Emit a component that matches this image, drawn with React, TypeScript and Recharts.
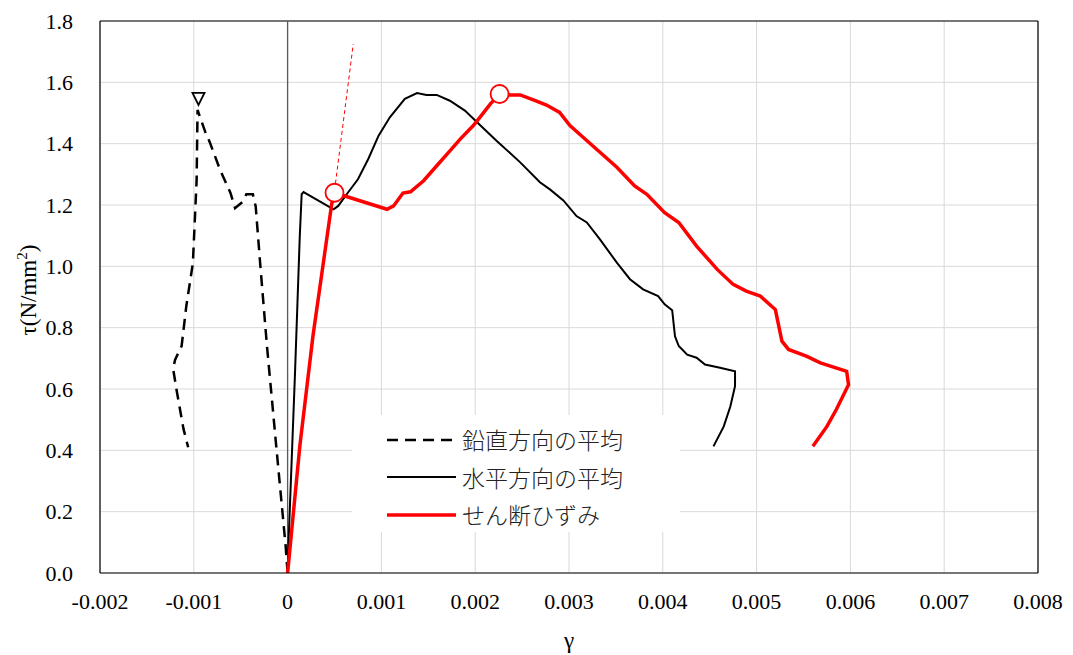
import {
  ComposedChart,
  Line,
  XAxis,
  YAxis,
  CartesianGrid,
  ReferenceLine,
  ReferenceDot,
  Legend,
} from 'recharts';

// γ (shear strain) axis and τ (shear stress) axis ticks
const xTicks = [-0.002, -0.001, 0, 0.001, 0.002, 0.003, 0.004, 0.005, 0.006, 0.007, 0.008];
const yTicks = [0, 0.2, 0.4, 0.6, 0.8, 1.0, 1.2, 1.4, 1.6, 1.8];

// [γ, τ] pairs, in measurement order
const verticalAvg: [number, number][] = [
  [0, 0], [-0.00002, 0.085], [-0.00012, 0.41], [-0.00022, 0.74], [-0.00029, 1.0],
  [-0.00034, 1.195], [-0.00037, 1.235], [-0.00044, 1.235], [-0.00048, 1.21],
  [-0.00056, 1.19], [-0.00061, 1.24], [-0.00072, 1.315], [-0.00083, 1.405],
  [-0.00088, 1.44], [-0.00096, 1.51], [-0.00097, 1.28], [-0.00101, 1.01],
  [-0.00108, 0.87], [-0.00113, 0.74], [-0.0012, 0.695], [-0.00122, 0.665],
  [-0.00118, 0.59], [-0.00111, 0.47], [-0.00106, 0.41],
];

const horizontalAvg: [number, number][] = [
  [0, 0], [0.00001, 0.1], [0.00008, 0.66], [0.00013, 1.1], [0.00015, 1.235],
  [0.00017, 1.242], [0.00049, 1.186], [0.00054, 1.197], [0.00063, 1.235],
  [0.00075, 1.284], [0.00086, 1.35], [0.00097, 1.426], [0.00109, 1.486],
  [0.00125, 1.546], [0.00138, 1.565], [0.00148, 1.559], [0.00159, 1.559],
  [0.00173, 1.54], [0.00189, 1.508], [0.00202, 1.47], [0.00223, 1.409],
  [0.00248, 1.339], [0.00269, 1.274], [0.0028, 1.25], [0.00294, 1.215],
  [0.00308, 1.164], [0.00319, 1.143], [0.00333, 1.088], [0.00351, 1.012],
  [0.00365, 0.958], [0.00379, 0.925], [0.00395, 0.903], [0.00402, 0.876],
  [0.0041, 0.857], [0.00413, 0.772], [0.00417, 0.74], [0.00426, 0.712],
  [0.00436, 0.702], [0.00445, 0.68], [0.00461, 0.669], [0.00477, 0.658],
  [0.00477, 0.609], [0.00472, 0.543], [0.00465, 0.478], [0.00454, 0.413],
];

const shearStrain: [number, number][] = [
  [0, 0], [0.00013, 0.413], [0.00027, 0.772], [0.00047, 1.203], [0.0005, 1.24],
  [0.00106, 1.186], [0.00113, 1.197], [0.00123, 1.239], [0.00131, 1.243],
  [0.00145, 1.279], [0.00159, 1.328], [0.0017, 1.366], [0.00184, 1.415],
  [0.00198, 1.459], [0.00205, 1.486], [0.00216, 1.529], [0.00226, 1.562],
  [0.00237, 1.559], [0.00248, 1.559], [0.00262, 1.543], [0.00276, 1.526],
  [0.0029, 1.502], [0.00301, 1.459], [0.00315, 1.421], [0.00333, 1.372],
  [0.00351, 1.323], [0.0037, 1.262], [0.00383, 1.235], [0.00402, 1.175],
  [0.00417, 1.143], [0.00436, 1.066], [0.00458, 0.99], [0.00475, 0.941],
  [0.00489, 0.919], [0.00504, 0.903], [0.0052, 0.859], [0.00527, 0.756],
  [0.00534, 0.729], [0.00553, 0.707], [0.00568, 0.685], [0.00596, 0.658],
  [0.00598, 0.614], [0.00585, 0.533], [0.00575, 0.478], [0.0056, 0.413],
];

// extension of the initial elastic slope
const elasticLine: [number, number][] = [[0.00051, 1.27], [0.0007, 1.725]];

// yield point and maximum of the shear strain curve
const shearMarks: [number, number][] = [[0.0005, 1.24], [0.00226, 1.562]];

// maximum of the vertical average
const verticalPeak: [number, number] = [-0.00095, 1.546];

const toPoints = (rows: [number, number][]) => rows.map(([x, y]) => ({ x, y }));

const SERIF = 'Times New Roman, Liberation Serif, DejaVu Serif, Noto Serif, serif';
const JP = 'Noto Sans CJK JP, sans-serif';

// legend rows, top to bottom
const legendRows: { name: string; stroke: string; width: number; dash?: string }[] = [
  { name: '鉛直方向の平均', stroke: '#000', width: 2.5, dash: '11 7' },
  { name: '水平方向の平均', stroke: '#000', width: 2 },
  { name: 'せん断ひずみ', stroke: '#ff0000', width: 3.5 },
];

function XTick({ x, y, payload }: any) {
  return (
    <text x={x} y={y + 28} dy="0.35em" textAnchor="middle" fontSize={22} fill="#000" fontFamily={SERIF}>
      {String(payload.value)}
    </text>
  );
}

function YTick({ x, y, payload }: any) {
  return (
    <text x={x - 27} y={y} dy="0.35em" textAnchor="end" fontSize={22} fill="#000" fontFamily={SERIF}>
      {Number(payload.value).toFixed(1)}
    </text>
  );
}

function Triangle({ cx, cy }: any) {
  return (
    <path
      d={`M${cx - 6},${cy - 6} L${cx + 6},${cy - 6} L${cx},${cy + 6} Z`}
      fill="#fff"
      stroke="#000"
      strokeWidth={1.8}
    />
  );
}

function LegendBox() {
  return (
    <div style={{ background: '#fff', width: '100%', height: '100%', paddingTop: 6, boxSizing: 'border-box' }}>
      {legendRows.map((s) => (
        <div key={s.name} style={{ display: 'flex', alignItems: 'center', height: 37.5 }}>
          <svg width={110} height={20} style={{ flex: 'none' }}>
            <line x1={35} y1={10} x2={104} y2={10} stroke={s.stroke} strokeWidth={s.width} strokeDasharray={s.dash} />
          </svg>
          <span style={{ fontFamily: JP, fontSize: 23, fontWeight: 300, color: '#222', lineHeight: 1 }}>{s.name}</span>
        </div>
      ))}
    </div>
  );
}

export default function App() {
  return (
    <div style={{ position: 'absolute', left: 0, top: 0, width: 1073, height: 655, background: '#fff', fontFamily: SERIF }}>
      <ComposedChart width={1073} height={655} margin={{ top: 21, right: 35, bottom: 0, left: 0 }}>
        <CartesianGrid stroke="#d9d9d9" strokeWidth={1} />
        <XAxis
          type="number"
          dataKey="x"
          domain={[-0.002, 0.008]}
          ticks={xTicks}
          allowDataOverflow
          height={82}
          tickLine={false}
          tickSize={0}
          tickMargin={0}
          axisLine={{ stroke: '#000', strokeWidth: 1.2 }}
          tick={<XTick />}
          label={({ viewBox }: any) => (
            <text
              x={viewBox.x + viewBox.width / 2}
              y={viewBox.y + 67}
              dy="0.35em"
              textAnchor="middle"
              fontSize={23}
              fontFamily={SERIF}
            >
              γ
            </text>
          )}
        />
        <YAxis
          type="number"
          dataKey="y"
          domain={[0, 1.8]}
          ticks={yTicks}
          allowDataOverflow
          width={100}
          tickLine={false}
          tickSize={0}
          tickMargin={0}
          axisLine={{ stroke: '#000', strokeWidth: 1.2 }}
          tick={<YTick />}
          label={({ viewBox }: any) => {
            const cx = 28;
            const cy = viewBox.y + viewBox.height / 2 - 7;
            return (
              <text
                x={cx}
                y={cy}
                dy="0.35em"
                textAnchor="middle"
                transform={`rotate(-90, ${cx}, ${cy})`}
                fontSize={23}
                fontFamily={SERIF}
              >
                τ(N/mm
                <tspan fontSize={15} dy={-9}>2</tspan>
                <tspan dy={9}>)</tspan>
              </text>
            );
          }}
        />
        <ReferenceLine y={1.8} stroke="#000" strokeWidth={1.2} />
        <ReferenceLine x={0.008} stroke="#000" strokeWidth={1.2} />
        <ReferenceLine x={0} stroke="#595959" strokeWidth={1.3} />
        <Legend
          layout="horizontal"
          verticalAlign="middle"
          align="center"
          content={<LegendBox />}
          wrapperStyle={{ left: 352, top: 415, width: 328, height: 117 }}
        />
        <Line
          data={toPoints(elasticLine)}
          dataKey="y"
          name="elastic"
          legendType="none"
          stroke="#ff0000"
          strokeWidth={1}
          strokeDasharray="4 3"
          dot={false}
          isAnimationActive={false}
        />
        <Line
          data={toPoints(verticalAvg)}
          dataKey="y"
          name="鉛直方向の平均"
          stroke="#000"
          strokeWidth={2.5}
          strokeDasharray="11 7"
          dot={false}
          isAnimationActive={false}
        />
        <Line
          data={toPoints(horizontalAvg)}
          dataKey="y"
          name="水平方向の平均"
          stroke="#000"
          strokeWidth={2}
          dot={false}
          isAnimationActive={false}
        />
        <Line
          data={toPoints(shearStrain)}
          dataKey="y"
          name="せん断ひずみ"
          stroke="#ff0000"
          strokeWidth={3.5}
          dot={false}
          isAnimationActive={false}
        />
        {shearMarks.map(([x, y]) => (
          <ReferenceDot key={x} x={x} y={y} r={9} fill="#fff" stroke="#ff0000" strokeWidth={1.8} />
        ))}
        <ReferenceDot x={verticalPeak[0]} y={verticalPeak[1]} r={6} shape={<Triangle />} />
      </ComposedChart>
    </div>
  );
}
